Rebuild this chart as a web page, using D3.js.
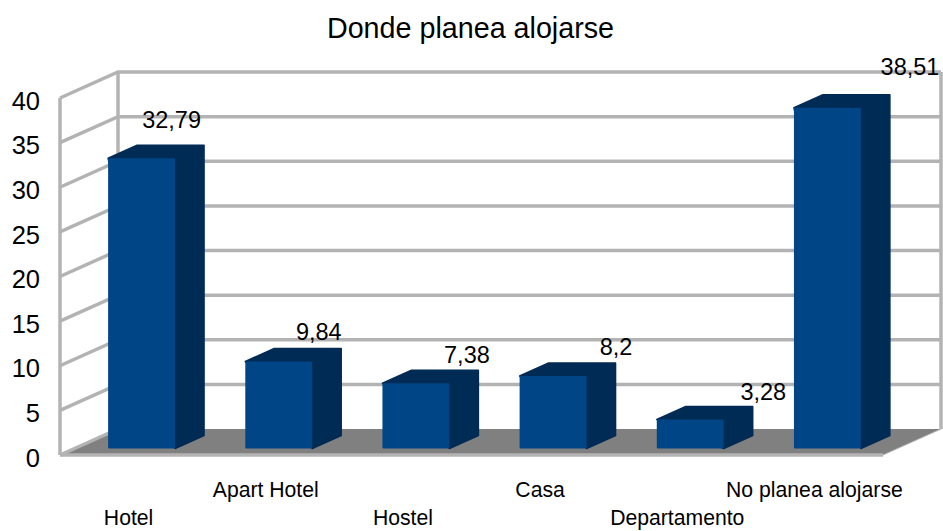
<!DOCTYPE html>
<html>
<head>
<meta charset="utf-8">
<script src="https://cdn.jsdelivr.net/npm/d3@7"></script>
<style>
  html, body { margin: 0; background: #fff; }
  svg { display: block; }
  text { font-family: "Liberation Sans", Arial, sans-serif; fill: #000; }
</style>
</head>
<body>
<div id="chart"></div>
<script>
const categories = ['Hotel', 'Apart Hotel', 'Hostel', 'Casa', 'Departamento', 'No planea alojarse']
const values = [32.79, 9.84, 7.38, 8.2, 3.28, 38.51]
const yTicks = [0, 5, 10, 15, 20, 25, 30, 35, 40]
const title = 'Donde planea alojarse'

const width = 943
const height = 531

// fake 3d: how far the back wall sits from the front plane
const depthX = 58
const depthY = -26
const gridColor = '#b3b3b3'

const svg = d3.select('#chart').append('svg').attr('width', width).attr('height', height)

const yScale = d3.scaleLinear().domain([0, 40]).range([455, 98])
const xBand = d3.scaleBand().domain(categories).range([60, 883])

// the bars stand on the floor, half the depth thick
const xBar = d3.scaleBand().domain(categories).range([73, 896]).paddingInner(0.512).paddingOuter(0.256)
const yBar = d3.scaleLinear().domain([0, 40]).range([448.5, 94.5])
const barDepthX = depthX / 2
const barDepthY = depthY / 2

// point on the walls at a depth between 0 (front) and 1 (back)
const pt = (x, v, depth) => `${x + depth * depthX},${yScale(v) + depth * depthY}`

const [x0, x1] = xBand.range()

// floor
svg.append('polygon')
  .attr('points', [pt(x0, 0, 0), pt(x0, 0, 1), pt(x1, 0, 1), pt(x1, 0, 0)].join(' '))
  .attr('fill', '#808080')

// grid on the side wall and the back wall
const grid = svg.append('g').attr('fill', 'none').attr('stroke', gridColor).attr('stroke-width', 3.5)
grid.selectAll('polyline.grid')
  .data(yTicks)
  .join('polyline')
  .attr('class', 'grid')
  .attr('points', d => (d === 0
    ? [pt(x0, d, 0), pt(x1, d, 0)]
    : [pt(x0, d, 0), pt(x0, d, 1), pt(x1, d, 1)]).join(' '))

grid.append('polyline')
  .attr('points', [pt(x0, 0, 0), pt(x0, 40, 0)].join(' '))
grid.append('polyline')
  .attr('points', [pt(x0, 0, 1), pt(x0, 40, 1)].join(' '))
grid.append('polyline')
  .attr('points', [pt(x1, 0, 1), pt(x1, 40, 1)].join(' '))
grid.append('polyline')
  .attr('points', [pt(x0, 0, 0), pt(x0, 0, 1)].join(' '))
grid.append('polyline')
  .attr('points', [pt(x1, 0, 0), pt(x1, 0, 1)].join(' '))
  .attr('stroke-width', 1)

const bars = svg.append('g').selectAll('g.bar').data(categories).join('g').attr('class', 'bar')

// top and side are one dark shape, slightly rounded at the corners
bars.append('polygon')
  .attr('fill', '#002b54')
  .attr('stroke', '#002b54')
  .attr('stroke-width', 1.5)
  .attr('stroke-linejoin', 'round')
  .attr('points', (d, i) => {
    const l = xBar(d)
    const r = l + xBar.bandwidth()
    const top = yBar(values[i])
    const bottom = yBar(0)
    return [
      [l, top],
      [l + barDepthX, top + barDepthY],
      [r + barDepthX, top + barDepthY],
      [r + barDepthX, bottom + barDepthY],
      [r, bottom],
    ].join(' ')
  })
bars.append('rect')
  .attr('fill', '#004586')
  .attr('rx', 1)
  .attr('x', d => xBar(d))
  .attr('y', (d, i) => yBar(values[i]))
  .attr('width', xBar.bandwidth())
  .attr('height', (d, i) => yBar(0) - yBar(values[i]))

// value labels drift away from the bars in the original, nudged by hand
const labelNudge = [[30, -17], [40, -8.5], [51, -7], [63, -8], [73, -6.5], [82.6, -20]]
svg.append('g').selectAll('text')
  .data(categories)
  .join('text')
  .attr('text-anchor', 'middle')
  .attr('font-size', 23.5)
  .attr('x', (d, i) => xBar(d) + xBar.bandwidth() / 2 + labelNudge[i][0])
  .attr('y', (d, i) => yBar(values[i]) + barDepthY + labelNudge[i][1])
  .text((d, i) => String(values[i]).replace('.', ','))

// y axis
const yAxisG = svg.append('g')
  .attr('transform', 'translate(40,3)')
  .call(d3.axisLeft(yScale).tickValues(yTicks).tickSize(0).tickPadding(0))
yAxisG.select('.domain').remove()
yAxisG.selectAll('text').attr('font-size', 25.5).attr('font-family', null).style('fill', '#000')

// x axis, labels alternate between two rows
const xAxisG = svg.append('g')
  .attr('transform', 'translate(0,455)')
  .call(d3.axisBottom(xBand).tickSize(0))
xAxisG.select('.domain').remove()
xAxisG.selectAll('text')
  .attr('font-size', 21.2)
  .attr('font-family', null)
  .attr('dy', null)
  .attr('y', (d, i) => (i % 2 === 0 ? 70 : 42))
  .style('fill', '#000')

svg.append('text')
  .attr('x', 470.5)
  .attr('y', 38)
  .attr('text-anchor', 'middle')
  .attr('font-size', 28.7)
  .text(title)
</script>
</body>
</html>
